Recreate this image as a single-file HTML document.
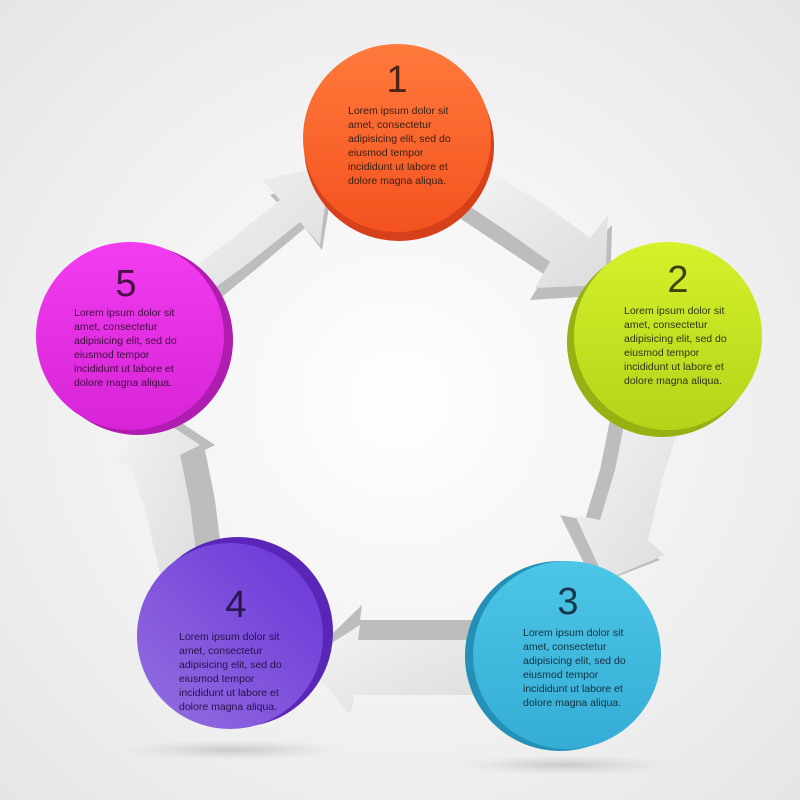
<!DOCTYPE html>
<html><head><meta charset="utf-8"><style>
html,body{margin:0;padding:0;width:800px;height:800px;overflow:hidden;background:#f2f2f2}
svg{display:block}
text{font-family:"Liberation Sans",sans-serif}
</style></head><body>
<svg width="800" height="800" viewBox="0 0 800 800" xmlns="http://www.w3.org/2000/svg">
<defs>
<radialGradient id="bg" cx="50%" cy="50%" r="70%"><stop offset="0" stop-color="#ffffff"/><stop offset="1" stop-color="#e6e6e6"/></radialGradient>
<linearGradient id="ar" x1="0" y1="0" x2="1" y2="1"><stop offset="0" stop-color="#f4f4f4"/><stop offset="1" stop-color="#dcdcdc"/></linearGradient>
<linearGradient id="c1" x1="0" y1="0" x2="0" y2="1"><stop offset="0" stop-color="#ff7a3c"/><stop offset="1" stop-color="#f4521e"/></linearGradient>
<linearGradient id="c2" x1="0" y1="0" x2="0" y2="1"><stop offset="0" stop-color="#d6f02a"/><stop offset="1" stop-color="#b3d41a"/></linearGradient>
<linearGradient id="c3" x1="0" y1="0" x2="0" y2="1"><stop offset="0" stop-color="#4cc6e6"/><stop offset="1" stop-color="#35acd6"/></linearGradient>
<linearGradient id="c4" x1="1" y1="0" x2="0" y2="1"><stop offset="0" stop-color="#6a34d8"/><stop offset="1" stop-color="#9470e0"/></linearGradient>
<linearGradient id="c5" x1="0" y1="0" x2="0" y2="1"><stop offset="0" stop-color="#f23cf0"/><stop offset="1" stop-color="#d624d6"/></linearGradient>
<radialGradient id="sh"><stop offset="0" stop-color="#bbb" stop-opacity=".7"/><stop offset="1" stop-color="#ccc" stop-opacity="0"/></radialGradient>
</defs>
<rect width="800" height="800" fill="url(#bg)"/>
<ellipse cx="232" cy="750" rx="110" ry="10" fill="url(#sh)"/>
<ellipse cx="565" cy="765" rx="110" ry="10" fill="url(#sh)"/>

<!-- arrows -->
<!-- 5 -> 1 -->
<polygon points="195,290 240,255 290,215 270,195 335,170 322,250 305,228 255,270 218,300" fill="#bdbdbd"/>
<polygon points="185,275 230,240 280,200 262,180 330,165 320,245 300,222 250,262 205,295" fill="url(#ar)"/>
<!-- 1 -> 2 -->
<polygon points="455,215 500,245 545,275 530,300 610,295 612,225 590,248 545,218 480,180" fill="#bdbdbd"/>
<polygon points="460,200 505,230 550,262 535,288 605,285 608,215 590,238 545,205 480,165" fill="url(#ar)"/>
<!-- 2 -> 3 -->
<polygon points="610,420 600,470 585,520 560,515 595,585 660,560 640,545 650,480 662,425" fill="#bdbdbd"/>
<polygon points="625,420 615,470 600,520 575,515 605,580 665,555 648,540 662,480 680,425" fill="url(#ar)"/>
<!-- 3 -> 4 -->
<polygon points="490,620 360,620 362,605 305,660 355,650 360,640 490,642" fill="#bdbdbd"/>
<polygon points="490,640 358,640 360,625 305,660 350,715 355,695 490,695" fill="url(#ar)"/>
<!-- 4 -> 5 -->
<polygon points="225,580 215,500 205,450 215,445 165,412 150,430 180,455 190,505 200,585" fill="#bdbdbd"/>
<polygon points="200,590 190,505 180,455 200,445 150,412 110,465 130,465 145,510 165,595" fill="url(#ar)"/>

<!-- circles -->
<g>
<circle cx="399" cy="146" r="95" fill="#d6401a"/>
<circle cx="397" cy="138" r="94" fill="url(#c1)"/>
<text x="397" y="92" font-size="38" fill="#4a2416" text-anchor="middle">1</text>
<text font-size="10.5" fill="#3a2015"><tspan x="348" y="114">Lorem ipsum dolor sit</tspan><tspan x="348" y="128">amet, consectetur</tspan><tspan x="348" y="142">adipisicing elit, sed do</tspan><tspan x="348" y="156">eiusmod tempor</tspan><tspan x="348" y="170">incididunt ut labore et</tspan><tspan x="348" y="184">dolore magna aliqua.</tspan></text>
</g>
<g>
<circle cx="662" cy="342" r="95" fill="#97b012"/>
<circle cx="668" cy="336" r="94" fill="url(#c2)"/>
<text x="678" y="292" font-size="38" fill="#3a4210" text-anchor="middle">2</text>
<text font-size="10.5" fill="#2e3610"><tspan x="624" y="314">Lorem ipsum dolor sit</tspan><tspan x="624" y="328">amet, consectetur</tspan><tspan x="624" y="342">adipisicing elit, sed do</tspan><tspan x="624" y="356">eiusmod tempor</tspan><tspan x="624" y="370">incididunt ut labore et</tspan><tspan x="624" y="384">dolore magna aliqua.</tspan></text>
</g>
<g>
<circle cx="560" cy="656" r="95" fill="#2490b8"/>
<circle cx="567" cy="655" r="94" fill="url(#c3)"/>
<text x="568" y="614" font-size="38" fill="#16384a" text-anchor="middle">3</text>
<text font-size="10.5" fill="#13303e"><tspan x="523" y="636">Lorem ipsum dolor sit</tspan><tspan x="523" y="650">amet, consectetur</tspan><tspan x="523" y="664">adipisicing elit, sed do</tspan><tspan x="523" y="678">eiusmod tempor</tspan><tspan x="523" y="692">incididunt ut labore et</tspan><tspan x="523" y="706">dolore magna aliqua.</tspan></text>
</g>
<g>
<circle cx="238" cy="632" r="95" fill="#5a26b8"/>
<circle cx="230" cy="636" r="93" fill="url(#c4)"/>
<text x="236" y="617" font-size="38" fill="#2a1650" text-anchor="middle">4</text>
<text font-size="10.5" fill="#25124a"><tspan x="179" y="640">Lorem ipsum dolor sit</tspan><tspan x="179" y="654">amet, consectetur</tspan><tspan x="179" y="668">adipisicing elit, sed do</tspan><tspan x="179" y="682">eiusmod tempor</tspan><tspan x="179" y="696">incididunt ut labore et</tspan><tspan x="179" y="710">dolore magna aliqua.</tspan></text>
</g>
<g>
<circle cx="138" cy="340" r="95" fill="#b01cb0"/>
<circle cx="130" cy="336" r="94" fill="url(#c5)"/>
<text x="126" y="296" font-size="38" fill="#4a1048" text-anchor="middle">5</text>
<text font-size="10.5" fill="#3e0c3e"><tspan x="74" y="316">Lorem ipsum dolor sit</tspan><tspan x="74" y="330">amet, consectetur</tspan><tspan x="74" y="344">adipisicing elit, sed do</tspan><tspan x="74" y="358">eiusmod tempor</tspan><tspan x="74" y="372">incididunt ut labore et</tspan><tspan x="74" y="386">dolore magna aliqua.</tspan></text>
</g>
</svg>
</body></html>
